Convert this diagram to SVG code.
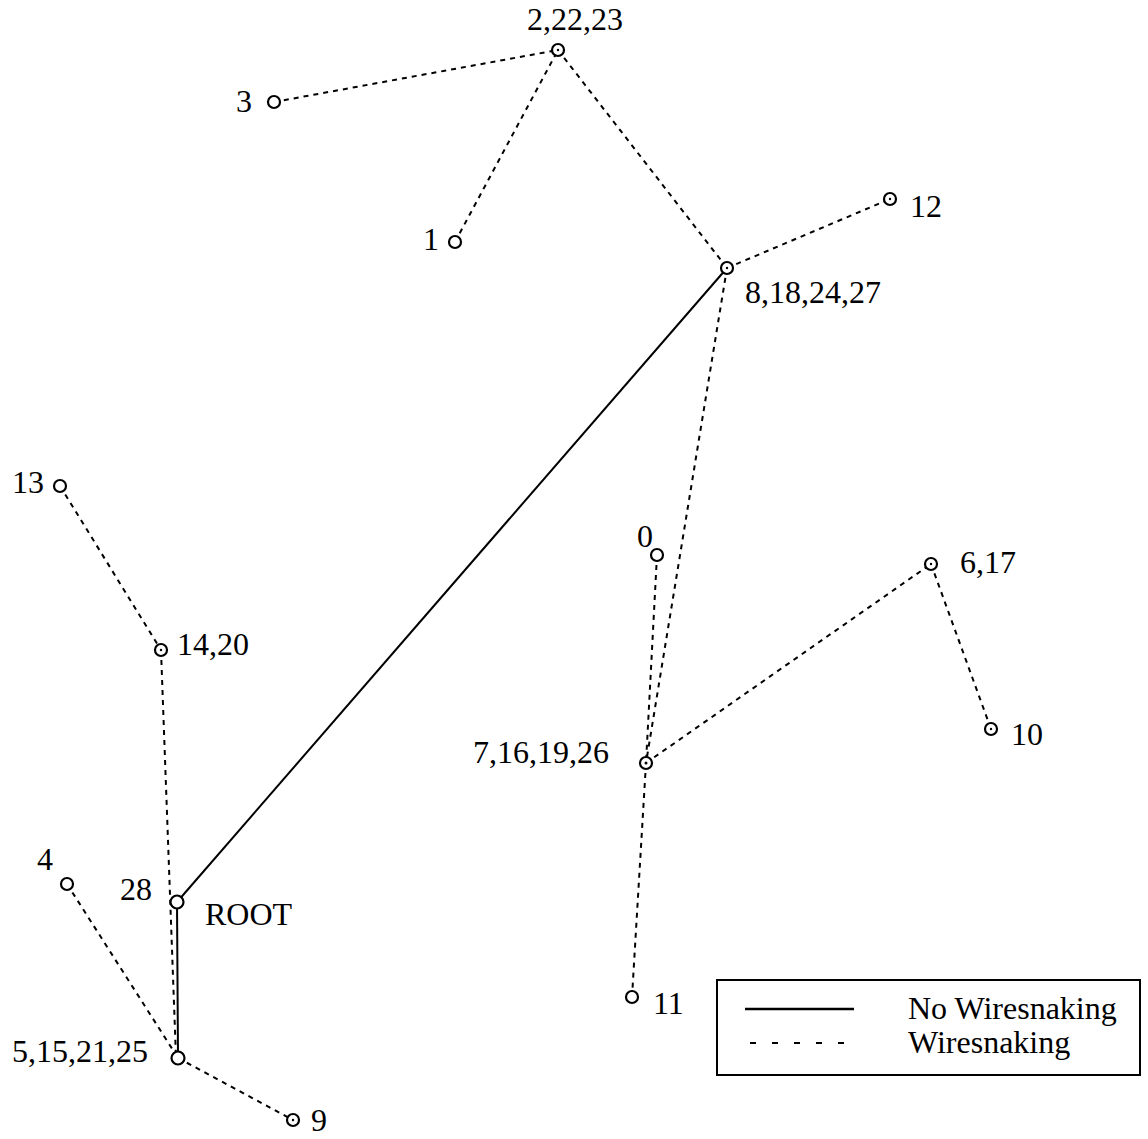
<svg xmlns="http://www.w3.org/2000/svg" width="1148" height="1139" viewBox="0 0 1148 1139">
<style>
text{font-family:"Liberation Serif","Times New Roman",serif;font-size:32px;fill:#000}
.d{stroke:#000;stroke-width:2;stroke-dasharray:5,5;fill:none}
.s{stroke:#000;stroke-width:2;fill:none}
.n{stroke:#000;stroke-width:2.2;fill:#fff}
.c{fill:#000}
</style>
<rect width="1148" height="1139" fill="#fff"/>
<g id="connectors">
<line class="d" x1="274" y1="102" x2="558" y2="50"/>
<line class="d" x1="455" y1="242" x2="558" y2="50"/>
<line class="d" x1="558" y1="50" x2="727" y2="268"/>
<line class="d" x1="727" y1="268" x2="890" y2="199"/>
<line class="d" x1="727" y1="268" x2="646" y2="763"/>
<line class="d" x1="657" y1="555" x2="646" y2="763"/>
<line class="d" x1="646" y1="763" x2="931" y2="564"/>
<line class="d" x1="931" y1="564" x2="991" y2="729"/>
<line class="d" x1="646" y1="763" x2="632" y2="997"/>
<line class="d" x1="60" y1="486" x2="161" y2="650"/>
<line class="d" x1="161" y1="650" x2="176" y2="1058"/>
<line class="d" x1="67" y1="884" x2="178" y2="1058"/>
<line class="d" x1="178" y1="1058" x2="293" y2="1120"/>
<line class="s" x1="177" y1="902" x2="727" y2="268"/>
<line class="s" x1="177" y1="902" x2="178" y2="1058"/>
</g>
<g id="n2"><circle class="n" cx="558" cy="50" r="6"/><circle class="c" cx="558" cy="50" r="1.2"/><text x="575" y="30" text-anchor="middle">2,22,23</text></g>
<g id="n3"><circle class="n" cx="274" cy="102" r="6"/><text x="236" y="112">3</text></g>
<g id="n1"><circle class="n" cx="455" cy="242" r="6"/><text x="423" y="250">1</text></g>
<g id="n12"><circle class="n" cx="890" cy="199" r="6"/><circle class="c" cx="890" cy="199" r="1.2"/><text x="910" y="217">12</text></g>
<g id="n8"><circle class="n" cx="727" cy="268" r="6"/><circle class="c" cx="727" cy="268" r="1.2"/><text x="745" y="303">8,18,24,27</text></g>
<g id="n13"><circle class="n" cx="60" cy="486" r="6"/><text x="12" y="493">13</text></g>
<g id="n0"><circle class="n" cx="657" cy="555" r="6"/><text x="637" y="547">0</text></g>
<g id="n6"><circle class="n" cx="931" cy="564" r="6"/><circle class="c" cx="931" cy="564" r="1.2"/><text x="960" y="573">6,17</text></g>
<g id="n14"><circle class="n" cx="161" cy="650" r="6"/><circle class="c" cx="161" cy="650" r="1.2"/><text x="177" y="655">14,20</text></g>
<g id="n10"><circle class="n" cx="991" cy="729" r="6"/><circle class="c" cx="991" cy="729" r="1.2"/><text x="1011" y="745">10</text></g>
<g id="n7"><circle class="n" cx="646" cy="763" r="6"/><circle class="c" cx="646" cy="763" r="1.5"/><text x="473" y="763">7,16,19,26</text></g>
<g id="n4"><circle class="n" cx="67" cy="884" r="6"/><text x="37" y="870">4</text></g>
<g id="n28"><circle class="n" cx="177" cy="902" r="6.5"/><text x="120" y="900">28</text><text x="205" y="925">ROOT</text></g>
<g id="n11"><circle class="n" cx="632" cy="997" r="6"/><text x="653" y="1014">11</text></g>
<g id="n5"><circle class="n" cx="178" cy="1058" r="6.5"/><text x="12" y="1062">5,15,21,25</text></g>
<g id="n9"><circle class="n" cx="293" cy="1120" r="6"/><circle class="c" cx="293" cy="1120" r="1.2"/><text x="311" y="1131">9</text></g>
<g id="legend">
<rect x="717" y="980" width="423" height="95" fill="none" stroke="#000" stroke-width="2"/>
<line x1="745" y1="1009" x2="854" y2="1009" stroke="#000" stroke-width="2.5"/>
<line x1="750" y1="1043" x2="845" y2="1043" stroke="#000" stroke-width="2" stroke-dasharray="6,16"/>
<text x="908" y="1019">No Wiresnaking</text>
<text x="908" y="1053">Wiresnaking</text>
</g>
</svg>
